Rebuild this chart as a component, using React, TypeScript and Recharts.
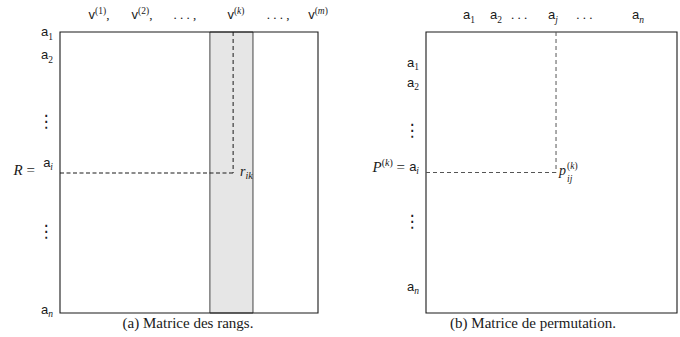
import React from 'react';
import { ComposedChart, XAxis, YAxis, ReferenceArea, ReferenceLine, ReferenceDot, Scatter } from 'recharts';

type Lab = { t?: string; sub?: string; sup?: string; tail?: string; serif?: boolean; dots?: boolean };

// matrix corners (domain anchors for both panels)
const cornerX = [0, 100];
const cornerY = [0, 100];

// ---- panel (a): rank matrix ----
const colAPos = [15.1, 31.8, 48.4, 68.2, 84.5, 100];
const colALabels: Lab[] = [
  { t: 'v', sup: '(1)', tail: ',' },
  { t: 'v', sup: '(2)', tail: ',' },
  { t: '. . . ,', serif: true },
  { t: 'v', sup: '(k)' },
  { t: '. . . ,', serif: true },
  { t: 'v', sup: '(m)' },
];
const rowAPos = [0, 8.2, 31.3, 46.6, 70.5, 98.9];
const rowALabels: Lab[] = [
  { t: 'a', sub: '1' },
  { t: 'a', sub: '2' },
  { dots: true },
  { t: 'a', sub: 'i' },
  { dots: true },
  { t: 'a', sub: 'n' },
];
const shadedColumn = [58.1, 74.8];
const colK = 67.1;
const rowI_A = 50.2;

// ---- panel (b): permutation matrix ----
const colBPos = [17.1, 27.9, 37.1, 50.6, 63.1, 84.5];
const colBLabels: Lab[] = [
  { t: 'a', sub: '1' },
  { t: 'a', sub: '2' },
  { t: '. . .', serif: true },
  { t: 'a', sub: 'j' },
  { t: '. . .', serif: true },
  { t: 'a', sub: 'n' },
];
const rowBPos = [11.0, 18.1, 34.5, 48.0, 66.9, 90.7];
const rowBLabels: Lab[] = rowALabels;
const colJ = 51.8;
const rowI_B = 50;

const corners = cornerX.map((x, i) => ({ x, y: cornerY[i] }));

const SANS = 'Liberation Sans, Arial, sans-serif';
const SERIF = 'Liberation Serif, Times New Roman, serif';
const INK = '#1a1a1a';

const script = (s: string, dy: number, size: number, key: string) =>
  s.split('').map((ch, i) => (
    <tspan
      key={key + i}
      dy={i === 0 ? dy : 0}
      fontSize={size}
      fontFamily={SERIF}
      fontStyle={/[a-z]/i.test(ch) ? 'italic' : 'normal'}
    >
      {ch}
    </tspan>
  ));

const labelSpans = (lab: Lab, baseSize = 13) => {
  const out: React.ReactNode[] = [];
  out.push(
    <tspan key="b" fontFamily={lab.serif ? SERIF : SANS} fontSize={baseSize}>
      {lab.t}
    </tspan>
  );
  let shift = 0;
  if (lab.sup) {
    out.push(...script(lab.sup, -5.5, 9.5, 'p'));
    shift = 5.5;
  }
  if (lab.sub) {
    out.push(...script(lab.sub, 3.5, 9.5, 's'));
    shift = -3.5;
  }
  if (lab.tail) {
    out.push(
      <tspan key="t" dy={shift} fontFamily={SERIF} fontSize={13}>
        {lab.tail}
      </tspan>
    );
  }
  return out;
};

const findIdx = (pos: number[], v: number) => pos.findIndex((p) => Math.abs(p - v) < 1e-6);

const makeColTick = (pos: number[], labels: Lab[]) => (props: any) => {
  const { x, y, payload } = props;
  const idx = findIdx(pos, payload.value);
  if (idx < 0) return <g />;
  return (
    <text x={x} y={y - 13} textAnchor="middle" fill={INK}>
      {labelSpans(labels[idx])}
    </text>
  );
};

const makeRowTick = (pos: number[], labels: Lab[], prefix: (x: number, y: number) => React.ReactNode, prefixIdx: number) => (props: any) => {
  const { x, y, payload } = props;
  const idx = findIdx(pos, payload.value);
  if (idx < 0) return <g />;
  const lab = labels[idx];
  if (lab.dots) {
    return (
      <text x={x - 14} y={y + 7} textAnchor="middle" fontFamily="DejaVu Sans" fontSize={17} fill={INK}>
        ⋮
      </text>
    );
  }
  return (
    <g>
      <text x={x - 7} y={y + 4} textAnchor="end" fill={INK}>
        {labelSpans(lab)}
      </text>
      {idx === prefixIdx ? prefix(x, y) : null}
    </g>
  );
};

const prefixR = (x: number, y: number) => (
  <text x={x - 25} y={y + 12} textAnchor="end" fill={INK} fontFamily={SERIF} fontSize={15}>
    <tspan fontStyle="italic">R</tspan>
    <tspan> =</tspan>
  </text>
);

const prefixP = (x: number, y: number) => (
  <text x={x - 21} y={y + 5} textAnchor="end" fill={INK} fontFamily={SERIF} fontSize={15}>
    <tspan fontStyle="italic">P</tspan>
    {script('(k)', -6, 10, 'k')}
    <tspan dy={6}> =</tspan>
  </text>
);

const caption = (text: string, dx: number) => (props: any) => {
  const vb = props.viewBox || {};
  return (
    <text x={vb.x + vb.width / 2 + dx} y={vb.y + 15} textAnchor="middle" fontFamily={SERIF} fontSize={15} fill={INK}>
      {text}
    </text>
  );
};

const rLabel = (props: any) => {
  const vb = props.viewBox || {};
  const cx = vb.x + (vb.width || 0) / 2;
  const cy = vb.y + (vb.height || 0) / 2;
  return (
    <text x={cx + 7} y={cy + 3} fill={INK} fontFamily={SERIF} fontSize={14}>
      <tspan fontStyle="italic">r</tspan>
      {script('ik', 3, 10, 'ik')}
    </text>
  );
};

const pLabel = (props: any) => {
  const vb = props.viewBox || {};
  const cx = vb.x + (vb.width || 0) / 2;
  const cy = vb.y + (vb.height || 0) / 2;
  return (
    <g>
      <text x={cx + 3} y={cy + 2} fill={INK} fontFamily={SERIF} fontSize={14}>
        <tspan fontStyle="italic">p</tspan>
      </text>
      <text x={cx + 11} y={cy - 4} fill={INK}>
        {script('(k)', 0, 9.5, 'pk')}
      </text>
      <text x={cx + 11} y={cy + 9} fill={INK}>
        {script('ij', 0, 9.5, 'pij')}
      </text>
    </g>
  );
};

export default function App() {
  return (
    <div style={{ position: 'absolute', left: 0, top: 0, width: 680, height: 337, background: '#fff', display: 'flex' }}>
      <ComposedChart width={340} height={337} data={corners} margin={{ top: 0, right: 22, bottom: 0, left: 0 }}>
        <XAxis
          xAxisId="top"
          dataKey="x"
          orientation="top"
          type="number"
          domain={[0, 100]}
          ticks={colAPos}
          interval={0}
          height={32}
          axisLine={false}
          tickLine={false}
          tickSize={0}
          tickMargin={0}
          tick={makeColTick(colAPos, colALabels)}
        />
        <XAxis
          xAxisId="cap"
          dataKey="x"
          orientation="bottom"
          type="number"
          domain={[0, 100]}
          height={24}
          axisLine={false}
          tickLine={false}
          tick={false}
          label={{ content: caption('(a) Matrice des rangs.', -1) } as any}
        />
        <YAxis
          yAxisId="y"
          dataKey="y"
          type="number"
          domain={[0, 100]}
          reversed
          ticks={rowAPos}
          interval={0}
          width={60}
          axisLine={false}
          tickLine={false}
          tickSize={0}
          tickMargin={0}
          tick={makeRowTick(rowAPos, rowALabels, prefixR, 3)}
        />
        <Scatter xAxisId="top" yAxisId="y" dataKey="y" fill="none" stroke="none" shape={() => <g />} isAnimationActive={false} />
        <ReferenceArea xAxisId="top" yAxisId="y" x1={shadedColumn[0]} x2={shadedColumn[1]} y1={0} y2={100} fill="#e6e6e6" fillOpacity={1} stroke="#444" strokeWidth={1} />
        <ReferenceArea xAxisId="top" yAxisId="y" x1={0} x2={100} y1={0} y2={100} fill="none" stroke={INK} strokeWidth={1.1} />
        <ReferenceLine xAxisId="top" yAxisId="y" segment={[{ x: colK, y: 0 }, { x: colK, y: rowI_A }]} stroke={INK} strokeDasharray="4 3" />
        <ReferenceLine xAxisId="top" yAxisId="y" segment={[{ x: 0, y: rowI_A }, { x: colK, y: rowI_A }]} stroke={INK} strokeWidth={1.1} strokeDasharray="4 2.5" />
        <ReferenceDot xAxisId="top" yAxisId="y" x={colK} y={rowI_A} r={1} fill="none" stroke="none" label={{ content: rLabel } as any} />
      </ComposedChart>
      <ComposedChart width={340} height={337} data={corners} margin={{ top: 0, right: 3, bottom: 0, left: 0 }}>
        <XAxis
          xAxisId="top"
          dataKey="x"
          orientation="top"
          type="number"
          domain={[0, 100]}
          ticks={colBPos}
          interval={0}
          height={32}
          axisLine={false}
          tickLine={false}
          tickSize={0}
          tickMargin={0}
          tick={makeColTick(colBPos, colBLabels)}
        />
        <XAxis
          xAxisId="cap"
          dataKey="x"
          orientation="bottom"
          type="number"
          domain={[0, 100]}
          height={24}
          axisLine={false}
          tickLine={false}
          tick={false}
          label={{ content: caption('(b) Matrice de permutation.', -18.5) } as any}
        />
        <YAxis
          yAxisId="y"
          dataKey="y"
          type="number"
          domain={[0, 100]}
          reversed
          ticks={rowBPos}
          interval={0}
          width={86}
          axisLine={false}
          tickLine={false}
          tickSize={0}
          tickMargin={0}
          tick={makeRowTick(rowBPos, rowBLabels, prefixP, 3)}
        />
        <Scatter xAxisId="top" yAxisId="y" dataKey="y" fill="none" stroke="none" shape={() => <g />} isAnimationActive={false} />
        <ReferenceArea xAxisId="top" yAxisId="y" x1={0} x2={100} y1={0} y2={100} fill="none" stroke={INK} strokeWidth={1.1} />
        <ReferenceLine xAxisId="top" yAxisId="y" segment={[{ x: colJ, y: 0 }, { x: colJ, y: rowI_B }]} stroke="#555" strokeDasharray="4 3" />
        <ReferenceLine xAxisId="top" yAxisId="y" segment={[{ x: 0, y: rowI_B }, { x: colJ, y: rowI_B }]} stroke="#555" strokeDasharray="4 3" />
        <ReferenceDot xAxisId="top" yAxisId="y" x={colJ} y={rowI_B} r={1} fill="none" stroke="none" label={{ content: pLabel } as any} />
      </ComposedChart>
    </div>
  );
}
